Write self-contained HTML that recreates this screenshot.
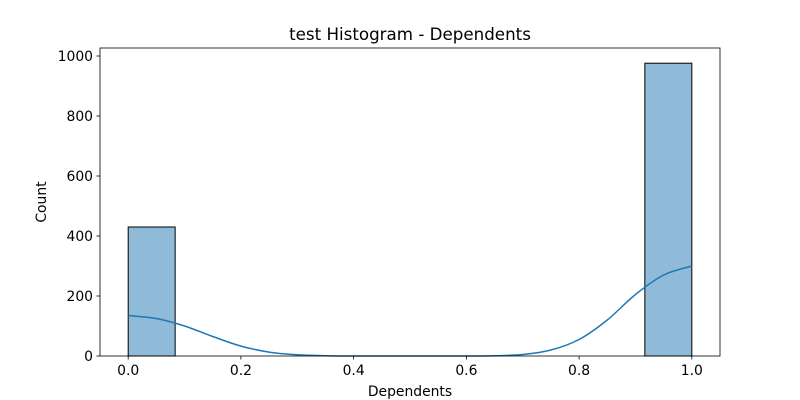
<!DOCTYPE html>
<html><head><meta charset="utf-8"><style>
html,body{margin:0;padding:0;background:#fff;}
svg{display:block;font-family:"DejaVu Sans","Liberation Sans",sans-serif;}
</style></head><body>
<svg id="chart" width="800" height="400">
<text x="410" y="40" font-size="16.7" text-anchor="middle">test Histogram - Dependents</text>
<text x="410" y="396" font-size="13.9" text-anchor="middle">Dependents</text>
<text x="46" y="202" font-size="13.9" text-anchor="middle" transform="rotate(-90 46 202)">Count</text>
<g id="bars"></g><g id="kde"></g><g id="axes"></g>
</svg>
<script>
const binEdgesStart = [0,1/12,2/12,3/12,4/12,5/12,6/12,7/12,8/12,9/12,10/12,11/12];
const binCounts = [430,0,0,0,0,0,0,0,0,0,0,976];
const xTicks = [0,0.2,0.4,0.6,0.8,1.0];
const xTickLabels = ["0.0","0.2","0.4","0.6","0.8","1.0"];
const yTicks = [0,200,400,600,800,1000];
const kdeX = [0,0.05,0.1,0.15,0.2,0.25,0.3,0.35,0.4,0.45,0.5,0.55,0.6,0.65,0.7,0.75,0.8,0.85,0.9,0.95,1.0];
const kdeY = [135,125,100,65,33,13,4,1,0,0,0,0,0,1,5,20,55,120,205,270,300];
const L=100,R=720,T=48,B=356, xmin=-0.05,xmax=1.05,ymin=0,ymax=1026.7;
const sx=v=>L+(v-xmin)/(xmax-xmin)*(R-L);
const sy=v=>B-(v-ymin)/(ymax-ymin)*(B-T);
const NS="http://www.w3.org/2000/svg";
function mk(tag,attrs,parent){const e=document.createElementNS(NS,tag);for(const k in attrs)e.setAttribute(k,attrs[k]);parent.appendChild(e);return e;}
const bars=document.getElementById('bars');
binCounts.forEach((c,i)=>{
  if(c<=0)return;
  const x0=sx(binEdgesStart[i]),x1=sx(binEdgesStart[i]+1/12);
  const r=mk('rect',{x:x0,y:sy(c),width:x1-x0,height:sy(0)-sy(c),fill:'rgba(31,119,180,0.5)',stroke:'#000','stroke-width':1},bars);
  
  
});
const pts=kdeX.map((x,i)=>[sx(x),sy(kdeY[i])]);
let d=`M${pts[0][0]},${pts[0][1]}`;
for(let i=0;i<pts.length-1;i++){
  const p0=pts[Math.max(0,i-1)],p1=pts[i],p2=pts[i+1],p3=pts[Math.min(pts.length-1,i+2)];
  const c1=[p1[0]+(p2[0]-p0[0])/6,p1[1]+(p2[1]-p0[1])/6];
  const c2=[p2[0]-(p3[0]-p1[0])/6,p2[1]-(p3[1]-p1[1])/6];
  d+=` C${c1[0]},${c1[1]} ${c2[0]},${c2[1]} ${p2[0]},${p2[1]}`;
}
const kp=mk('path',{d:d,fill:'none',stroke:'#1f77b4','stroke-width':1.5},document.getElementById('kde'));


const ax=document.getElementById('axes');
const fr=mk('rect',{x:L,y:T,width:R-L,height:B-T,fill:'none',stroke:'#000','stroke-width':0.8},ax);


xTicks.forEach((v,i)=>{
  const x=sx(v);
  mk('line',{x1:x,y1:B,x2:x,y2:B+3.5,stroke:'#000','stroke-width':0.8},ax);
  const t=mk('text',{x:x,y:B+19,'font-size':13.9,'text-anchor':'middle'},ax);
  t.textContent=xTickLabels[i];
  
  
});
yTicks.forEach(v=>{
  const y=sy(v);
  mk('line',{x1:L-3.5,y1:y,x2:L,y2:y,stroke:'#000','stroke-width':0.8},ax);
  const t=mk('text',{x:L-7,y:y+5,'font-size':13.9,'text-anchor':'end'},ax);
  t.textContent=String(v);
  
  
});
</script>
</body></html>
